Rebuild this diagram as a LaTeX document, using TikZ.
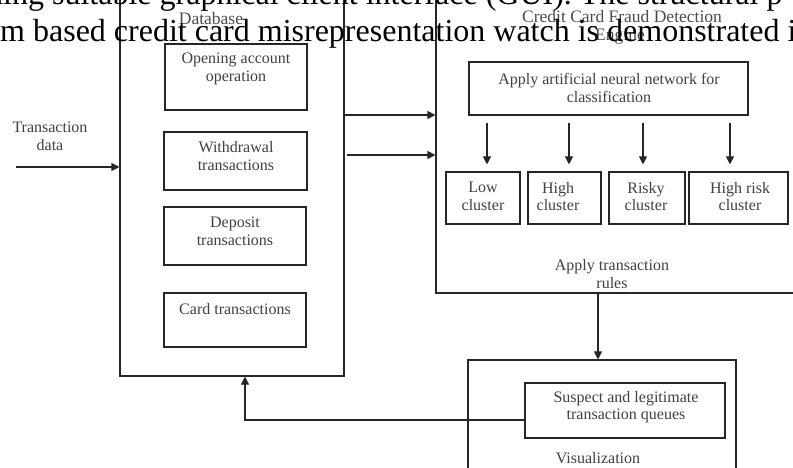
\documentclass[tikz,border=0pt]{standalone}
\usepackage{fontspec}
\setmainfont{Liberation Serif}
\usetikzlibrary{arrows.meta}
\begin{document}
\begin{tikzpicture}[x=1pt,y=-1pt,
  box/.style={draw=black!85,line width=1.1pt,rectangle,inner sep=0pt},
  lbl/.style={text=black!75,font=\fontsize{16}{17.5}\selectfont,align=center,inner sep=0pt},
  ttl/.style={text=black!70,font=\fontsize{17.5}{19}\selectfont,inner sep=0pt},
  big/.style={text=black,font=\fontsize{32}{36}\selectfont,inner sep=0pt},
  conn/.style={draw=black!85,line width=1.1pt},
  arr/.style={conn,-{Triangle[length=8pt,width=8pt]}}]
\useasboundingbox (0,0) rectangle (793,468);
\clip (0,0) rectangle (793,468);
% big boxes
\node[box,minimum width=224pt,minimum height=396pt] (db) at (232,178) {};
\node[box,minimum width=369pt,minimum height=313pt] (ccfd) at (620.5,136.5) {};
\node[box,minimum width=268pt,minimum height=130pt] (vis) at (602,425) {};
% database inner boxes
\node[box,minimum width=142pt,minimum height=66pt] (open) at (236,77) {};
\node[box,minimum width=143pt,minimum height=58pt] (wd) at (235.5,161) {};
\node[box,minimum width=142pt,minimum height=58pt] (dep) at (235,236) {};
\node[box,minimum width=142pt,minimum height=54pt] (card) at (235,320) {};
% engine inner boxes
\node[box,minimum width=279pt,minimum height=53pt] (ann) at (608.5,88.5) {};
\node[box,minimum width=74pt,minimum height=52pt] (low) at (483,198) {};
\node[box,minimum width=73pt,minimum height=52pt] (high) at (564.5,198) {};
\node[box,minimum width=76pt,minimum height=52pt] (risky) at (647,198) {};
\node[box,minimum width=99pt,minimum height=52pt] (hrisk) at (738.5,198) {};
% visualization inner box
\node[box,minimum width=200pt,minimum height=55pt] (sq) at (625,410.5) {};
% labels
\node[ttl] (dbl) at (211,19) {Database};
\node[ttl] (ccfdl) at (622,17) {Credit Card Fraud Detection};
\node[ttl] (engl) at (620,37) {Engine};
\node[lbl] (tdl) at (50,136.5) {Transaction\\data};
\node[lbl] (openl) at (236,69) {Opening account\\operation};
\node[lbl] (wdl) at (236,156) {Withdrawal\\transactions};
\node[lbl] (depl) at (235,231.5) {Deposit\\transactions};
\node[lbl] (cardl) at (235,309) {Card transactions};
\node[lbl] (annl) at (609,88) {Apply artificial neural network for\\classification};
\node[lbl] (lowl) at (483,196.5) {Low\\cluster};
\node[lbl] (highl) at (558,196.5) {High\\cluster};
\node[lbl] (riskyl) at (646,196.5) {Risky\\cluster};
\node[lbl] (hriskl) at (740,196.5) {High risk\\cluster};
\node[lbl] (rulesl) at (612,274) {Apply transaction\\rules};
\node[lbl] (sql) at (626,407) {Suspect and legitimate\\transaction queues};
\node[lbl] (visl) at (598,458) {Visualization};
% connectors
\coordinate (tds) at (16,167);
\draw[arr] (tds) -- (tds -| db.west);
\coordinate (d1) at (344,115);
\coordinate (d2) at (347,155);
\draw[arr] (d1) -- (d1 -| ccfd.west);
\draw[arr] (d2) -- (d2 -| ccfd.west);
\coordinate (a1) at (487,123);
\coordinate (a2) at (569,123);
\coordinate (a3) at (643,123);
\coordinate (a4) at (730,123);
\draw[arr,shorten >=7pt] (a1) -- (a1 |- low.north);
\draw[arr,shorten >=7pt] (a2) -- (a2 |- high.north);
\draw[arr,shorten >=7pt] (a3) -- (a3 |- risky.north);
\draw[arr,shorten >=7pt] (a4) -- (a4 |- hrisk.north);
\coordinate (vx) at (598,0);
\draw[arr] (ccfd.south -| vx) -- (vis.north -| vx);
\coordinate (fb) at (245,420);
\draw[arr] (sq.west |- fb) -- (fb) -- (fb |- db.south);
% overlapping page text
\node[big,anchor=base west] (t1) at (-13,5) {ding suitable graphical client interface (GUI). The structural p};
\node[big,anchor=base west] (t2) at (0,42) {m based credit card misrepresentation watch is demonstrated in};
\end{tikzpicture}
\end{document}
